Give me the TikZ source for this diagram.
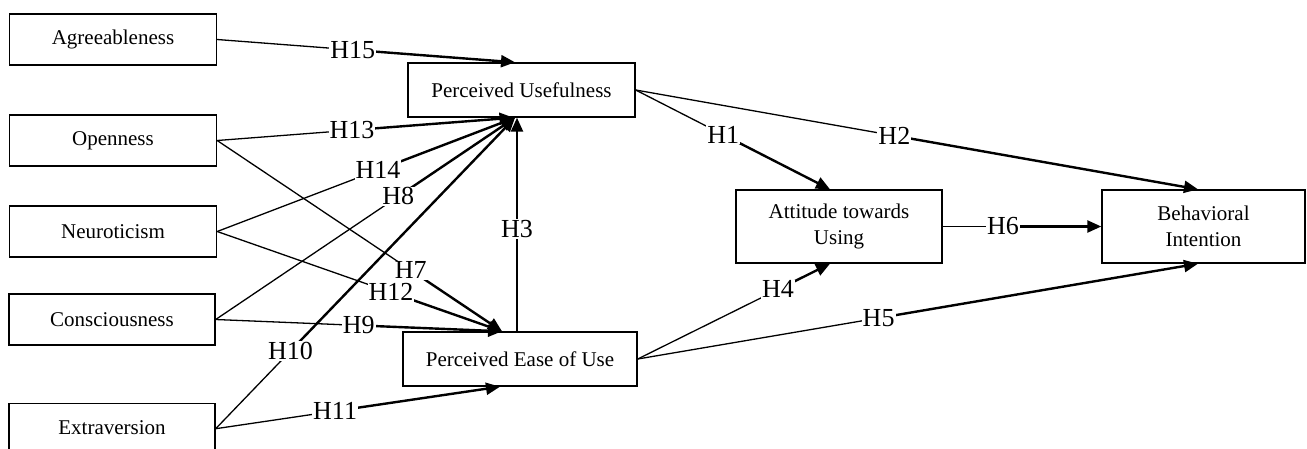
\documentclass[tikz,border=0pt]{standalone}
\usepackage{fontspec}
\setmainfont{Liberation Serif}
\usetikzlibrary{arrows.meta,calc}
\begin{document}
\begin{tikzpicture}[x=1pt,y=-1pt,
  box/.style={draw,line width=1.4pt,rectangle,inner sep=0pt,align=center,font=\fontsize{21}{26}\selectfont},
  lbl/.style={fill=white,inner sep=1pt,font=\fontsize{26}{28}\selectfont},
  thinln/.style={line width=1.3pt},
  thickln/.style={line width=2.4pt,-{Triangle[length=14pt,width=12pt]}}]
\useasboundingbox (0,0) rectangle (1307,448);
% boxes
\node[box,minimum width=207pt,minimum height=51pt] (agr) at (113,39.5) {Agreeableness};
\node[box,minimum width=207pt,minimum height=51pt] (ope) at (113,140.5) {Openness};
\node[box,minimum width=207pt,minimum height=51pt] (neu) at (113,231.5) {Neuroticism};
\node[box,minimum width=206pt,minimum height=51pt] (con) at (112,319.5) {Consciousness};
\node[box,minimum width=206pt,text height=31pt,text depth=29pt,anchor=north] (ext) at (112,403) {Extraversion};
\node[box,minimum width=227pt,minimum height=54pt] (pu) at (521.5,90) {Perceived Usefulness};
\node[box,minimum width=234pt,minimum height=54pt] (peou) at (520,359) {Perceived Ease of Use};
\node[box,minimum width=206pt,minimum height=73pt] (att) at (839,226.5) {Attitude towards\\Using};
\node[box,minimum width=203pt,minimum height=73pt] (bi) at (1203.5,226.5) {Behavioral\\Intention};
% edge macro
\newcommand{\hedge}[4]{%
  \path #1 -- coordinate[pos=#3] (m#4) #2;
  \draw[thinln] #1 -- (m#4);
  \draw[thickln] (m#4) -- #2;
  \node[lbl] at (m#4) {#4};}
\hedge{(agr.east)}{([xshift=-6.5pt]pu.north)}{0.455}{H15}
\hedge{(ope.east)}{([xshift=-8pt]pu.south)}{0.455}{H13}
\hedge{(neu.east)}{([xshift=-6.5pt]pu.south)}{0.54}{H14}
\hedge{(con.east)}{([xshift=-6.5pt]pu.south)}{0.61}{H8}
\hedge{([yshift=5pt]ext.east)}{([xshift=-6.5pt]pu.south)}{0.25}{H10}
\hedge{(ope.east)}{([xshift=-18pt]peou.north)}{0.68}{H7}
\hedge{(neu.east)}{([xshift=-18pt]peou.north)}{0.61}{H12}
\hedge{(con.east)}{([xshift=-18pt]peou.north)}{0.50}{H9}
\hedge{([yshift=5pt]ext.east)}{([xshift=-20pt]peou.south)}{0.42}{H11}
\hedge{([xshift=-3pt]peou.north)}{([xshift=-4.5pt]pu.south)}{0.48}{H3}
\hedge{(pu.east)}{([xshift=-9pt]att.north)}{0.45}{H1}
\hedge{(pu.east)}{([xshift=-5.5pt]bi.north)}{0.46}{H2}
\hedge{(att.east)}{(bi.west)}{0.38}{H6}
\hedge{(peou.east)}{([xshift=-9pt]att.south)}{0.73}{H4}
\hedge{(peou.east)}{([xshift=-5.5pt]bi.south)}{0.43}{H5}
\end{tikzpicture}
\end{document}
